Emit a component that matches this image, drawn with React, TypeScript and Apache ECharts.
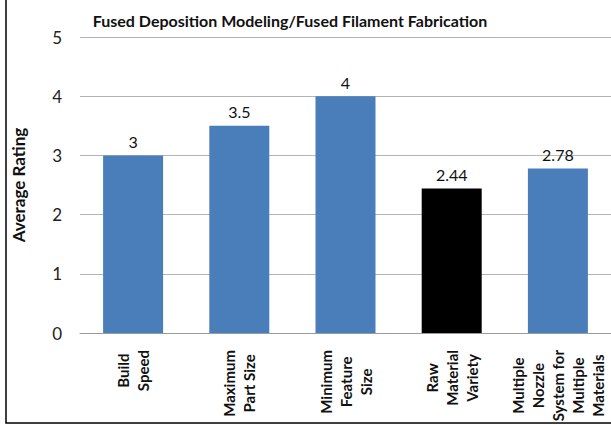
import React, { useEffect, useRef } from "react";
import * as echarts from "echarts";

const categories = [
  "Build\nSpeed",
  "Maximum\nPart Size",
  "Minimum\nFeature\nSize",
  "Raw\nMaterial\nVariety",
  "Multiple\nNozzle\nSystem for\nMultiple\nMaterials",
];
const values = [3, 3.5, 4, 2.44, 2.78];
const valueLabels = ["3", "3.5", "4", "2.44", "2.78"];
const barColors = ["#4a7ebb", "#4a7ebb", "#4a7ebb", "#000000", "#4a7ebb"];
const yTicks = [0, 1, 2, 3, 4, 5];
const title = "Fused Deposition Modeling/Fused Filament Fabrication";
const yName = "Average Rating";

export default function App() {
  const ref = useRef<HTMLDivElement>(null);
  useEffect(() => {
    document.body.style.margin = "0";
    const chart = echarts.init(ref.current!, null, { renderer: "svg" });
    const font = "Lato, 'Open Sans', sans-serif";
    const xFontSize = 15;
    const lineH = 20;
    const labelMargin = 17;
    chart.setOption({
      animation: false,
      backgroundColor: "#ffffff",
      title: {
        text: title,
        left: 285,
        textAlign: "center",
        top: 7,
        textStyle: { fontFamily: font, fontSize: 16, fontWeight: "bold", color: "#111" },
      },
      grid: { left: 80, right: -1, top: 37, bottom: 92, containLabel: false },
      xAxis: {
        type: "category",
        data: categories,
        axisLine: { lineStyle: { color: "#9a9a9a", width: 1 } },
        axisTick: { show: false },
        axisLabel: { show: false },
      },
      yAxis: {
        type: "value",
        min: yTicks[0],
        max: yTicks[yTicks.length - 1],
        interval: 1,
        name: yName,
        nameLocation: "middle",
        nameGap: 53,
        nameTextStyle: { fontFamily: font, fontSize: 17, fontWeight: "bold", color: "#111" },
        axisLine: { show: false },
        axisTick: { show: false },
        axisLabel: { fontFamily: font, fontSize: 17, color: "#222", margin: 18 },
        splitLine: { lineStyle: { color: "#b4b4b4", width: 1 } },
      },
      series: [
        {
          type: "bar",
          barWidth: 60,
          data: values.map((v, i) => ({ value: v, itemStyle: { color: barColors[i] } })),
          label: {
            show: true,
            position: "top",
            distance: 6,
            fontFamily: font,
            fontSize: 16,
            color: "#111",
            formatter: (p: any) => valueLabels[p.dataIndex],
          },
        },
      ],
    });

    const canvas = document.createElement("canvas");
    const ctx = canvas.getContext("2d")!;
    ctx.font = `bold ${xFontSize}px Lato`;
    const axisY = chart.convertToPixel({ yAxisIndex: 0 }, 0) as number;
    const labels = categories.map((c, i) => {
      const w = Math.max(...c.split("\n").map((s) => ctx.measureText(s).width));
      const x = chart.convertToPixel({ xAxisIndex: 0 }, i) as number;
      return {
        type: "text",
        x: x,
        y: axisY + labelMargin + w / 2,
        rotation: Math.PI / 2,
        silent: true,
        style: {
          text: c,
          align: "center",
          verticalAlign: "middle",
          fontFamily: font,
          fontSize: xFontSize,
          fontWeight: "bold",
          lineHeight: lineH,
          fill: "#111",
        },
      };
    });

    chart.setOption({
      graphic: [
        ...labels,
        {
          type: "rect",
          shape: { x: 6, y: -4, width: 620, height: 427 },
          style: { fill: "none", stroke: "#000", lineWidth: 1.5 },
          silent: true,
          z: 100,
        },
      ],
    });
    return () => chart.dispose();
  }, []);
  return <div ref={ref} style={{ width: 611, height: 425 }} />;
}
